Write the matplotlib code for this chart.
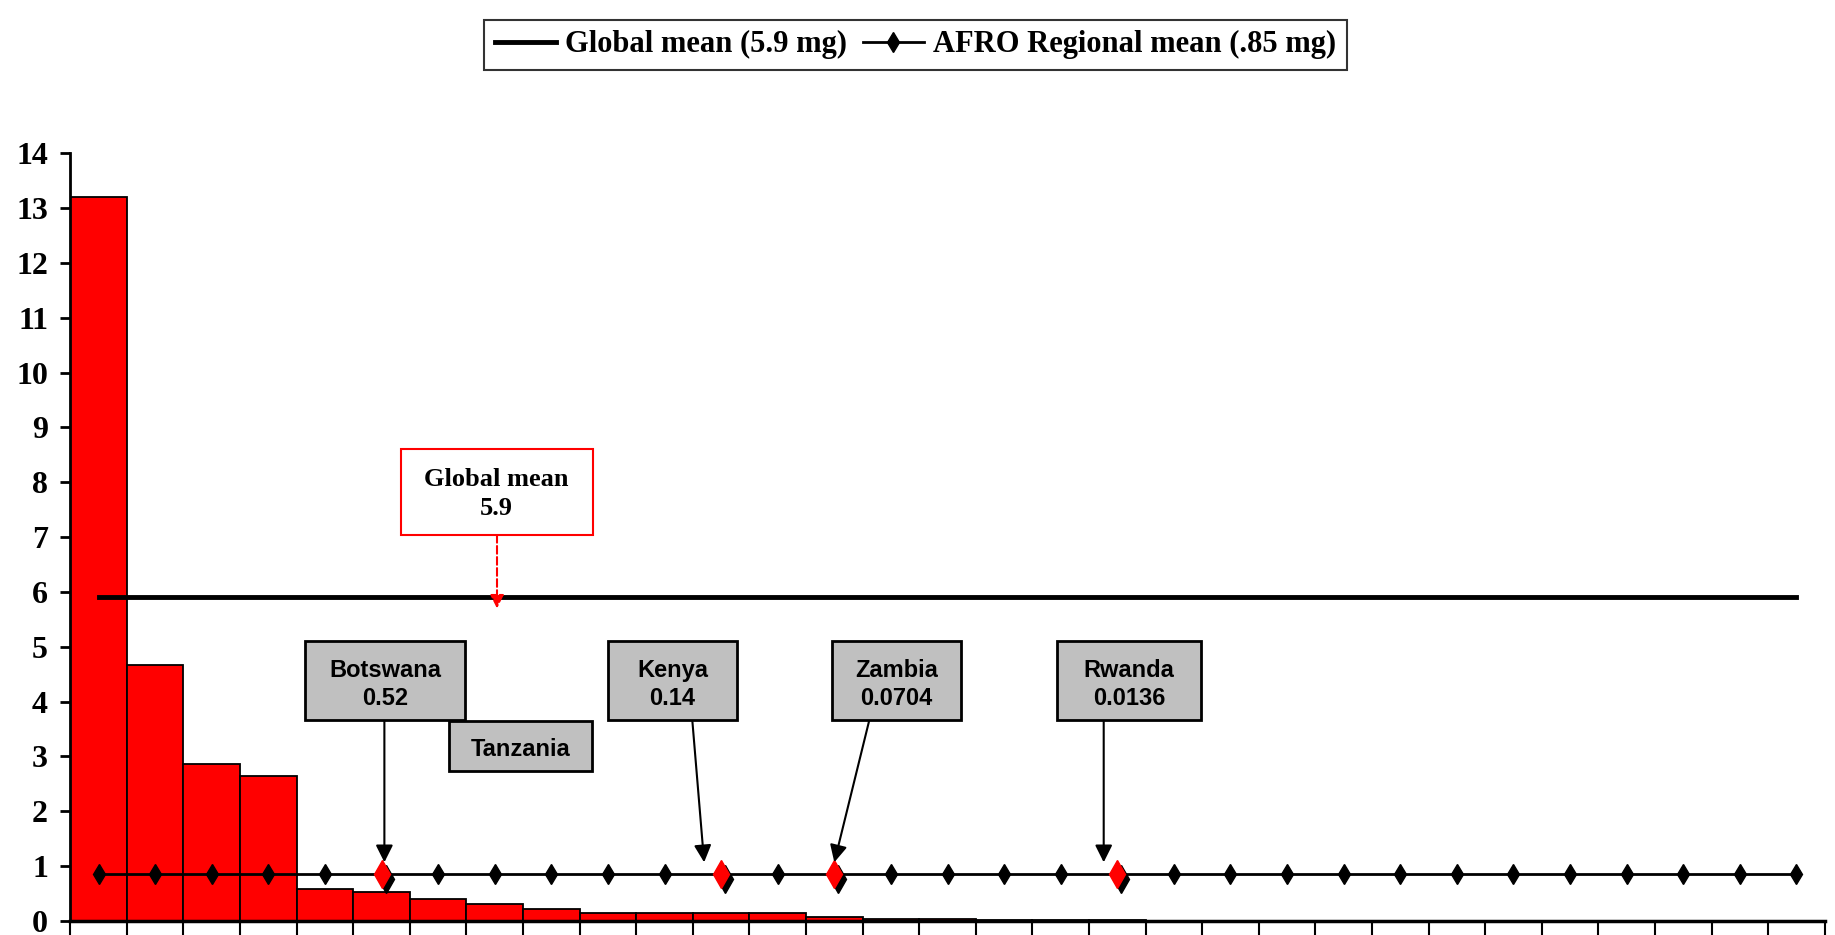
import matplotlib
matplotlib.use("Agg")
import matplotlib.pyplot as plt
from matplotlib.patches import Rectangle
from matplotlib.lines import Line2D
from matplotlib.font_manager import FontProperties
import matplotlib.transforms as mtransforms
import numpy as np

# ---- data ----
categories = list(range(1, 32))
values = [13.2, 4.67, 2.87, 2.65, 0.58, 0.52, 0.40, 0.31, 0.21,
          0.14, 0.14, 0.14, 0.14, 0.0704, 0.04, 0.035, 0.014, 0.0138, 0.0136,
          0, 0, 0, 0, 0, 0, 0, 0, 0, 0, 0, 0]
global_mean = 5.9
afro_mean = 0.85
yticks = list(range(0, 15))

# highlighted countries: (name, category index, value label)
hl_names = ["Botswana", "Kenya", "Zambia", "Rwanda"]
hl_cats = [6, 12, 14, 19]
hl_labels = ["0.52", "0.14", "0.0704", "0.0136"]
extra_name = "Tanzania"

legend_labels = ["Global mean (5.9 mg)", "AFRO Regional mean (.85 mg)"]

# ---- figure ----
fig = plt.figure(figsize=(18.35, 9.35), dpi=100)
ax = fig.add_axes([0.0383, 0.015, 0.9561, 0.821])

serif_b = dict(family="Liberation Serif", weight="bold")
sans_b = dict(family="Liberation Sans", weight="bold")

x = np.array(categories)
ax.bar(x, values, width=1.0, color="#FF0000", edgecolor="black", linewidth=1.3, zorder=2)

# global mean line
ax.plot([x[0], x[-1]], [global_mean, global_mean], color="black", lw=3.5, zorder=3)

# AFRO mean line with diamonds
ax.plot(x, [afro_mean] * len(x), color="black", lw=2, marker="d", ms=9.7,
        mfc="black", mec="black", zorder=4)

# highlighted diamonds with shadow
shadow = mtransforms.offset_copy(ax.transData, fig=fig, x=4, y=-5, units="dots")
hx = np.array(hl_cats)
ax.plot(hx, [afro_mean] * len(hx), ls="none", marker="d", ms=14, mfc="black",
        mec="black", transform=shadow, zorder=5)
ax.plot(hx, [afro_mean] * len(hx), ls="none", marker="d", ms=14, mfc="#FF0000",
        mec="#FF0000", zorder=6)

# ---- annotation boxes ----
box_specs = [  # (x0, x1, y0, y1)
    (4.64, 7.48, 3.67, 5.10),
    (10.0, 12.28, 3.67, 5.10),
    (13.96, 16.24, 3.67, 5.10),
    (17.93, 20.48, 3.67, 5.10),
]
arrow_starts = [6.05, 11.49, 14.62, 18.76]
arrow_ends = [6.05, 11.70, 14.0, 18.76]
for (x0, x1, y0, y1), name, lab, xs, xe in zip(box_specs, hl_names, hl_labels,
                                                arrow_starts, arrow_ends):
    ax.add_patch(Rectangle((x0, y0), x1 - x0, y1 - y0, facecolor="#C0C0C0",
                           edgecolor="black", lw=2, zorder=7))
    ax.text((x0 + x1) / 2, (y0 + y1) / 2 - 0.07, f"{name}\n{lab}", ha="center",
            va="center", fontsize=17, linespacing=1.3, zorder=8, **sans_b)
    ax.annotate("", xy=(xe, 1.07), xytext=(xs, y0),
                arrowprops=dict(arrowstyle="-|>", color="black", lw=1.5,
                                mutation_scale=26, shrinkA=0, shrinkB=0), zorder=6)

# Tanzania box (no arrow)
ax.add_patch(Rectangle((7.19, 2.73), 9.71 - 7.19, 3.65 - 2.73, facecolor="#C0C0C0",
                       edgecolor="black", lw=2, zorder=7))
ax.text((7.19 + 9.71) / 2, (2.73 + 3.65) / 2 - 0.06, extra_name, ha="center",
        va="center", fontsize=17, zorder=8, **sans_b)

# Global mean box
ax.add_patch(Rectangle((6.34, 7.04), 9.73 - 6.34, 8.60 - 7.04, facecolor="white",
                       edgecolor="#FF0000", lw=1.5, zorder=7))
ax.text((6.34 + 9.73) / 2, (7.04 + 8.60) / 2 - 0.03, f"Global mean\n{global_mean}",
        ha="center", va="center", fontsize=19, linespacing=1.3, zorder=8, **serif_b)
ax.annotate("", xy=(8.04, 5.70), xytext=(8.04, 7.04),
            arrowprops=dict(arrowstyle="-|>", color="#FF0000", lw=1.5, ls="--",
                            mutation_scale=20, shrinkA=0, shrinkB=0), zorder=6)

# ---- axes styling ----
ax.set_xlim(0.5, len(x) + 0.5)
ax.set_ylim(0, 14)
ax.set_yticks(yticks)
ax.set_yticklabels([str(t) for t in yticks], fontsize=23, **serif_b)
ax.set_xticks(np.arange(0.5, len(x) + 1, 1.0))
ax.set_xticklabels([])
ax.tick_params(axis="y", direction="out", length=7, width=2, pad=9)
ax.tick_params(axis="x", direction="out", length=12, width=1.5)
for s in ["top", "right"]:
    ax.spines[s].set_visible(False)
ax.spines["left"].set_linewidth(2)
ax.spines["bottom"].set_linewidth(2.5)
ax.spines["bottom"].set_zorder(9)

# ---- legend ----
handles = [Line2D([], [], color="black", lw=3.5),
           Line2D([], [], color="black", lw=2, marker="d", ms=9.7, mfc="black")]
leg = fig.legend(handles, legend_labels, loc="center", bbox_to_anchor=(0.499, 0.952),
                 ncol=2, frameon=True, fancybox=False, edgecolor="black",
                 prop=FontProperties(family="Liberation Serif", weight="bold", size=22),
                 handlelength=2.0, columnspacing=0.5, handletextpad=0.3,
                 borderpad=0.35, borderaxespad=0)
leg.get_frame().set_linewidth(1.5)

fig.savefig("out.png", dpi=100)
